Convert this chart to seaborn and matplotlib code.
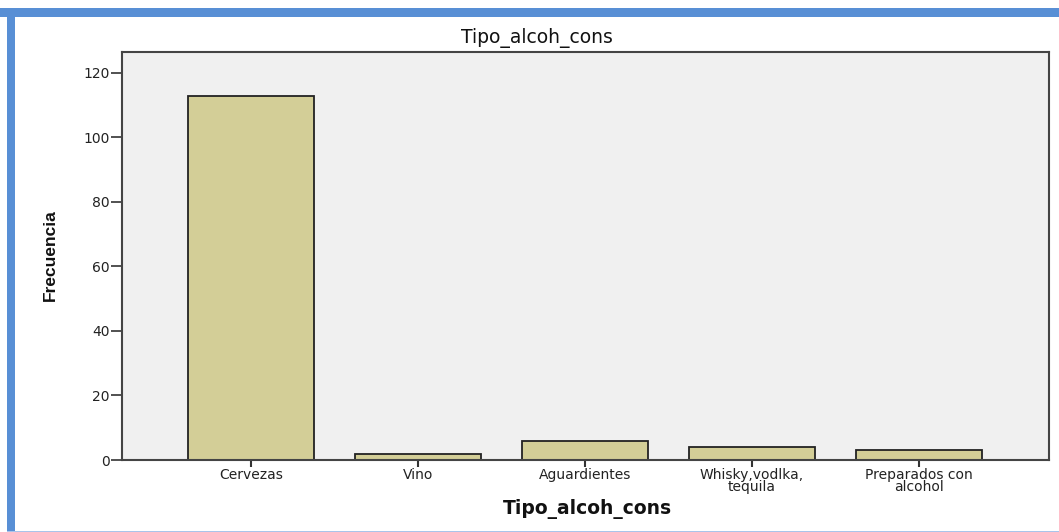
import matplotlib
matplotlib.use("Agg")
import matplotlib.pyplot as plt
import seaborn as sns
import pandas as pd
from matplotlib.patches import Rectangle

categories = ["Cervezas", "Vino", "Aguardientes", "Whisky,vodlka,\ntequila", "Preparados con\nalcohol"]
frecuencia = [113, 2, 6, 4, 3]
yticks = [0, 20, 40, 60, 80, 100, 120]

df = pd.DataFrame({"Tipo_alcoh_cons": categories, "Frecuencia": frecuencia})

sns.set_theme(style="white")
plt.rcParams["font.family"] = ["DejaVu Sans"]

W, H = 1059, 532
fig = plt.figure(figsize=(W / 100, H / 100), dpi=100)
fig.patch.set_facecolor("white")

# axes box in pixels: left 122, right 1049, top 52, bottom 460
ax = fig.add_axes([122 / W, 1 - 460 / H, (1049 - 122) / W, (460 - 52) / H])
ax.set_facecolor("#F0F0F0")

sns.barplot(data=df, x="Tipo_alcoh_cons", y="Frecuencia", color="#D3CE97",
            edgecolor="#222222", linewidth=1.3, width=0.755, saturation=1, ax=ax)

ax.set_xlim(-0.775, 4.78)
ax.set_ylim(0, 126.5)
ax.set_yticks(yticks)
ax.set_xlabel("")
ax.set_ylabel("")
ax.tick_params(axis="y", direction="out", length=8, width=1.2, color="#333333",
               labelsize=10, pad=1, left=True)
ax.tick_params(axis="x", direction="out", length=5, width=1.5, color="#333333",
               labelsize=10, pad=1, bottom=True)
for lbl in ax.get_xticklabels() + ax.get_yticklabels():
    lbl.set_color("#222222")
for lbl in ax.get_xticklabels():
    lbl.set_linespacing(0.75)
for s in ax.spines.values():
    s.set_color("#444444")
    s.set_linewidth(1.5)

fig.text(537 / W, 1 - 38 / H, "Tipo_alcoh_cons", ha="center", va="center",
         fontsize=13.5, color="#111111")
fig.text(587 / W, 1 - 509 / H, "Tipo_alcoh_cons", ha="center", va="center",
         fontsize=13.5, fontweight="bold", color="#111111")
fig.text(50 / W, 1 - 255 / H, "Frecuencia", ha="center", va="center", rotation=90,
         fontsize=12.5, fontweight="bold", color="#111111",
         family=["Liberation Sans", "DejaVu Sans"])

# blue frame
blue = "#588FD5"
fig.patches.append(Rectangle((0, 1 - 16.5 / H), 1, 8.5 / H, transform=fig.transFigure,
                             facecolor=blue, edgecolor="none"))
fig.patches.append(Rectangle((7 / W, 0), 8 / W, 1 - 8 / H, transform=fig.transFigure,
                             facecolor=blue, edgecolor="none"))
fig.patches.append(Rectangle((7 / W, 0), 1, 1.5 / H, transform=fig.transFigure,
                             facecolor="#A9C4EA", edgecolor="none"))

fig.savefig("out.png", dpi=100)
